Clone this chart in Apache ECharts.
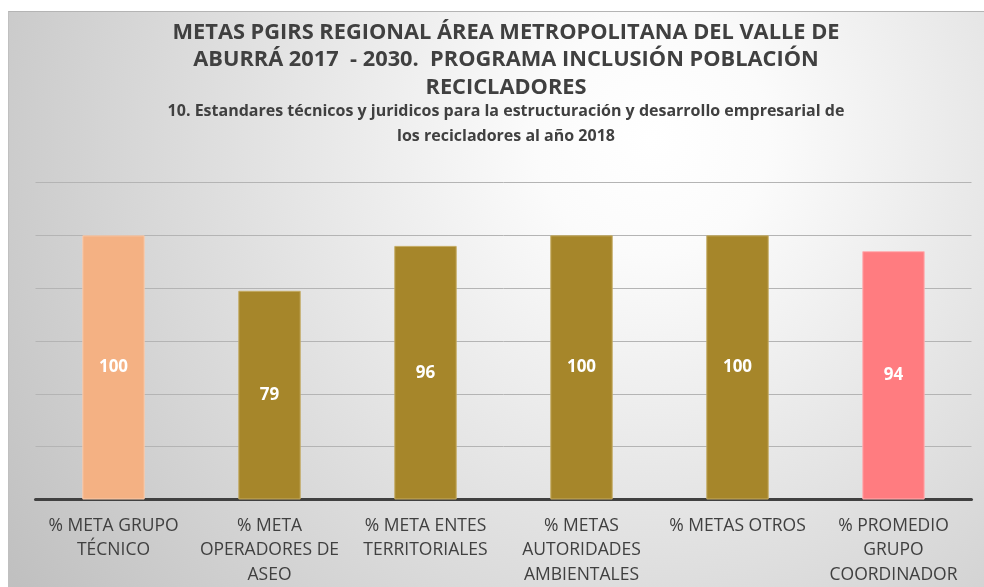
<!DOCTYPE html>
<html>
<head>
<meta charset="utf-8">
<script src="https://cdn.jsdelivr.net/npm/echarts@6/dist/echarts.min.js"></script>
<style>
  html, body { margin: 0; padding: 0; background: #ffffff; }
  #chart {
    position: absolute; left: 8px; top: 11px;
    width: 976px; height: 576px;
    border-top: 1px solid #b4b4b4; border-left: 1px solid #c0c0c0;
    box-sizing: border-box;
  }
</style>
</head>
<body>
<div id="chart"></div>
<script>
// datos
var categorias = [
  '% META GRUPO\nTÉCNICO',
  '% META\nOPERADORES DE\nASEO',
  '% META ENTES\nTERRITORIALES',
  '% METAS\nAUTORIDADES\nAMBIENTALES',
  '% METAS OTROS',
  '% PROMEDIO\nGRUPO\nCOORDINADOR'
];
var valores = [100, 79, 96, 100, 100, 94];
var ejeY = { min: 0, max: 120, intervalo: 20 };

var titulo = 'METAS PGIRS REGIONAL ÁREA METROPOLITANA DEL VALLE DE\nABURRÁ 2017  - 2030.  PROGRAMA INCLUSIÓN POBLACIÓN\nRECICLADORES';
var subtitulo = '10. Estandares técnicos y juridicos para la estructuración y desarrollo empresarial de\nlos recicladores al año 2018';

// estilos
var coloresBarra = ['#F4B183', '#A6862A', '#A6862A', '#A6862A', '#A6862A', '#FF7C80'];
var bordesBarra = ['#F8CBAD', '#C4AA62', '#C4AA62', '#C4AA62', '#C4AA62', '#FFB0B2'];
var fuente = "'Open Sans', sans-serif";

var myChart = echarts.init(document.getElementById('chart'));
var option = {
  backgroundColor: {
    type: 'radial', x: 0.66, y: 0.22, r: 1.35,
    colorStops: [
      { offset: 0, color: '#ffffff' },
      { offset: 0.15, color: '#fbfbfb' },
      { offset: 1, color: '#c0c0c0' }
    ]
  },
  title: {
    text: titulo,
    subtext: subtitulo,
    left: 492,
    top: 2,
    textAlign: 'center',
    itemGap: -3,
    textStyle: {
      fontFamily: fuente, fontSize: 21.8, fontWeight: 'bold',
      color: '#404040', lineHeight: 27.5
    },
    subtextStyle: {
      fontFamily: fuente, fontSize: 16, fontWeight: 'bold',
      color: '#404040', lineHeight: 25
    }
  },
  grid: { left: 26.5, right: 12.5, top: 170.5, bottom: 87 },
  xAxis: {
    type: 'category',
    data: categorias,
    axisLine: { lineStyle: { color: '#404040', width: 3 } },
    axisTick: { show: false },
    axisLabel: {
      interval: 0, margin: 14,
      fontFamily: fuente, fontSize: 17.5, color: '#404040', lineHeight: 24.5
    }
  },
  yAxis: {
    type: 'value',
    min: ejeY.min, max: ejeY.max, interval: ejeY.intervalo,
    axisLabel: { show: false },
    axisLine: { show: false },
    axisTick: { show: false },
    splitLine: { lineStyle: { color: '#b4b4b4', width: 1 } }
  },
  series: [{
    type: 'bar',
    barWidth: '40%',
    data: valores.map(function (v, i) {
      return {
        value: v,
        itemStyle: { color: coloresBarra[i], borderColor: bordesBarra[i], borderWidth: 1 }
      };
    }),
    label: {
      show: true, position: 'inside',
      fontFamily: fuente, fontSize: 17, fontWeight: 'bold', color: '#ffffff'
    }
  }]
};
myChart.setOption(option, true);
</script>
</body>
</html>
